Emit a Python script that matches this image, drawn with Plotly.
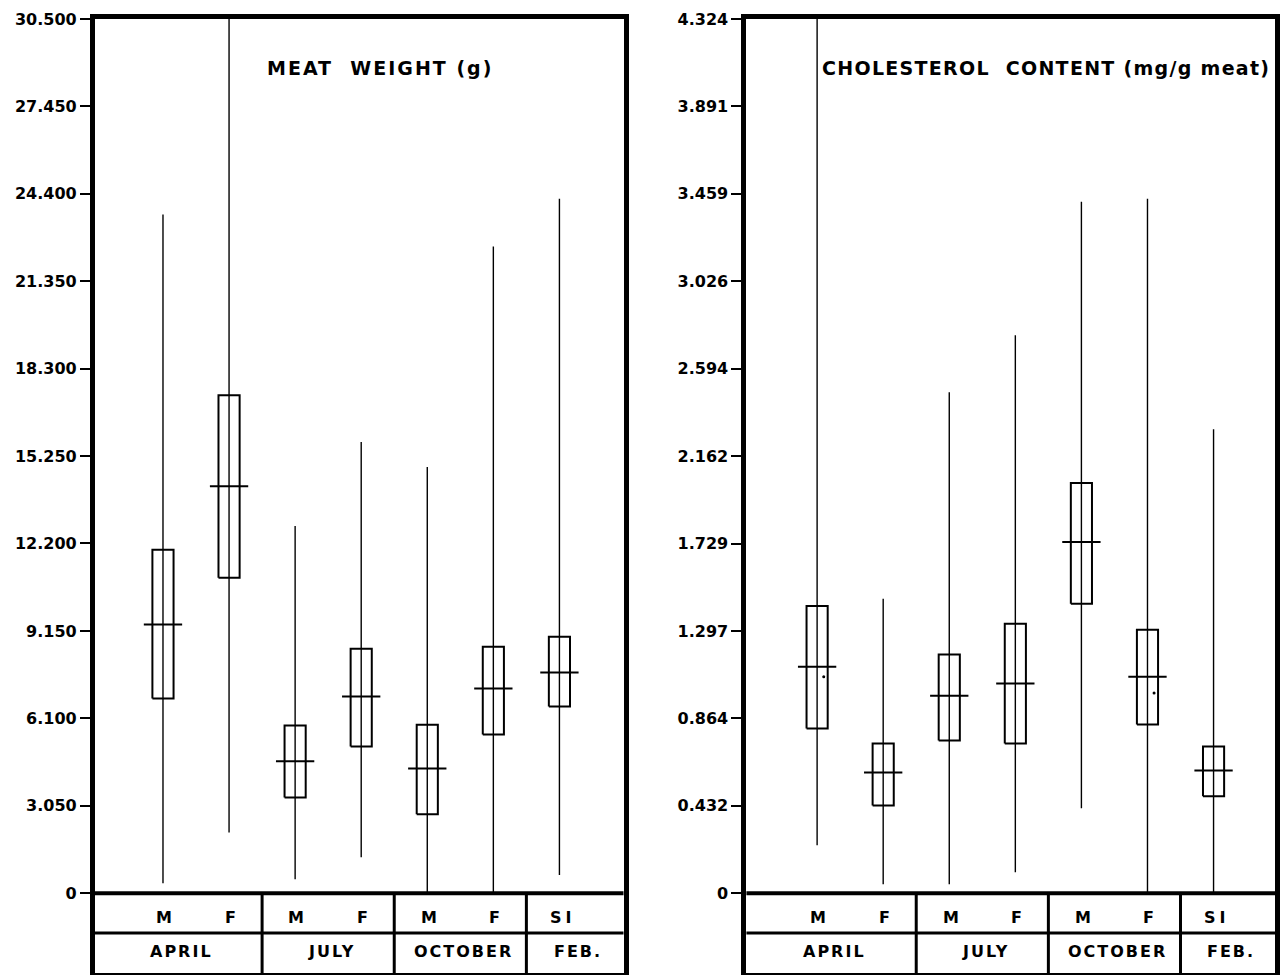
import plotly.graph_objects as go

# ---------------- data ----------------
categories = ["M", "F", "M", "F", "M", "F", "SI"]
months = ["APRIL", "JULY", "OCTOBER", "FEB."]
month_sizes = [2, 2, 2, 1]

# Meat weight (g)
mw_min = [0.35, 2.12, 0.49, 1.25, 0.0, 0.0, 0.63]
mw_max = [23.68, 30.5, 12.81, 15.74, 14.87, 22.56, 24.23]
mw_q_lo = [6.79, 11.0, 3.34, 5.12, 2.75, 5.54, 6.51]
mw_q_hi = [11.98, 17.37, 5.85, 8.53, 5.88, 8.60, 8.95]
mw_mean = [9.37, 14.20, 4.60, 6.86, 4.35, 7.14, 7.70]
mw_ticks = [0, 3.05, 6.1, 9.15, 12.2, 15.25, 18.3, 21.35, 24.4, 27.45, 30.5]
mw_ticklabels = ["0", "3.050", "6.100", "9.150", "12.200", "15.250", "18.300",
                 "21.350", "24.400", "27.450", "30.500"]

# Cholesterol content (mg/g meat)
ch_min = [0.237, 0.044, 0.044, 0.104, 0.420, 0.0, 0.0]
ch_max = [4.324, 1.456, 2.478, 2.759, 3.420, 3.435, 2.295]
ch_q_lo = [0.814, 0.434, 0.755, 0.740, 1.431, 0.834, 0.479]
ch_q_hi = [1.420, 0.740, 1.180, 1.333, 2.029, 1.303, 0.726]
ch_mean = [1.120, 0.597, 0.977, 1.037, 1.737, 1.071, 0.607]
ch_dot_idx = [0, 5]
ch_dot_val = [1.07, 0.99]
ch_ticks = [0, 0.432, 0.864, 1.297, 1.729, 2.162, 2.594, 3.026, 3.459, 3.891, 4.324]
ch_ticklabels = ["0", "0.432", "0.864", "1.297", "1.729", "2.162", "2.594",
                 "3.026", "3.459", "3.891", "4.324"]

# ---------------- style ----------------
FONT = "DejaVu Sans"
BOX_HW = 0.16
BAR_HW = 0.29
XR = [-0.03, 7.97]
XR2 = [-0.07, 7.93]
TABLE_FRAC = 80 / 876   # depth of the label table below zero, relative to y max
ROW_FRAC = 40 / 876
MF_FRAC = 24 / 876
MON_FRAC = 58 / 876
TITLE_FRAC = 1 - 49 / 876


def spaced(t, px):
    return '<span style="letter-spacing:%spx">%s</span>' % (px, t)


fig = go.Figure()
xs = list(range(1, len(categories) + 1))


def add_panel(xa, ya, xr, vmin, vmax, qlo, qhi, mean, ymax):
    wx, wy = [], []
    for x, a, b in zip(xs, vmin, vmax):
        wx += [x, x, None]
        wy += [a, b, None]
    fig.add_trace(go.Scatter(x=wx, y=wy, mode="lines", xaxis=xa, yaxis=ya,
                             line=dict(color="black", width=1.4), hoverinfo="skip"))
    bx, by = [], []
    for x, a, b in zip(xs, qlo, qhi):
        bx += [x - BOX_HW, x + BOX_HW, x + BOX_HW, x - BOX_HW, x - BOX_HW, None]
        by += [a, a, b, b, a, None]
    fig.add_trace(go.Scatter(x=bx, y=by, mode="lines", xaxis=xa, yaxis=ya,
                             line=dict(color="black", width=2), hoverinfo="skip"))
    mx, my = [], []
    for x, m in zip(xs, mean):
        mx += [x - BAR_HW, x + BAR_HW, None]
        my += [m, m, None]
    fig.add_trace(go.Scatter(x=mx, y=my, mode="lines", xaxis=xa, yaxis=ya,
                             line=dict(color="black", width=2), hoverinfo="skip"))

    xref = "x" if xa == "x" else "x2"
    yref = "y" if ya == "y" else "y2"
    ymin = -TABLE_FRAC * ymax
    fig.add_shape(type="line", xref=xref + " domain", yref=yref, x0=0, x1=1, y0=0, y1=0,
                  line=dict(color="black", width=4))
    fig.add_shape(type="line", xref=xref + " domain", yref=yref, x0=0, x1=1,
                  y0=-ROW_FRAC * ymax, y1=-ROW_FRAC * ymax,
                  line=dict(color="black", width=3))
    pos = 0.5
    centers = []
    for i, n in enumerate(month_sizes):
        start = pos
        pos += n
        end = pos if i < len(month_sizes) - 1 else xr[1]
        if i == 0:
            start = xr[0]
        centers.append((start + end) / 2 + 0.05)
        if i < len(month_sizes) - 1:
            fig.add_shape(type="line", xref=xref, yref=yref, x0=pos, x1=pos,
                          y0=ymin, y1=0, line=dict(color="black", width=3))
    for x, c in zip(xs, categories):
        fig.add_annotation(x=x + 0.05, y=-MF_FRAC * ymax, xref=xref, yref=yref,
                           text=spaced(c, 4), showarrow=False,
                           font=dict(family=FONT, size=16, color="black", weight="bold"))
    for cx, m in zip(centers, months):
        fig.add_annotation(x=cx, y=-MON_FRAC * ymax, xref=xref, yref=yref,
                           text=spaced(m, 2), showarrow=False,
                           font=dict(family=FONT, size=16, color="black", weight="bold"))
    return ymin


ymin1 = add_panel("x", "y", XR, mw_min, mw_max, mw_q_lo, mw_q_hi, mw_mean, 30.5)
ymin2 = add_panel("x2", "y2", XR2, ch_min, ch_max, ch_q_lo, ch_q_hi, ch_mean, 4.324)

fig.add_trace(go.Scatter(x=[xs[i] + 0.1 for i in ch_dot_idx], y=ch_dot_val, mode="markers",
                         xaxis="x2", yaxis="y2", marker=dict(color="black", size=3),
                         hoverinfo="skip"))

fig.add_annotation(x=2.55, y=TITLE_FRAC * 30.5, xref="x", yref="y", xanchor="left",
                   text=spaced("MEAT  WEIGHT (g)", 2), showarrow=False,
                   font=dict(family=FONT, size=19, color="black", weight="bold"))
fig.add_annotation(x=0.995, y=TITLE_FRAC * 4.324, xref="x2 domain", yref="y2",
                   xanchor="right",
                   text=spaced("CHOLESTEROL  CONTENT (mg/g meat)", 1.3), showarrow=False,
                   font=dict(family=FONT, size=19, color="black", weight="bold"))

axis_common = dict(showgrid=False, zeroline=False, showline=True, linecolor="black",
                   linewidth=5, mirror=True)
tickfont = dict(family=FONT, size=16, color="black", weight="bold")
fig.update_layout(
    width=1280, height=975, margin=dict(l=0, r=0, t=0, b=0),
    paper_bgcolor="white", plot_bgcolor="white", showlegend=False,
    xaxis=dict(domain=[95 / 1280, 624 / 1280], range=XR, showticklabels=False,
               ticks="", **axis_common),
    yaxis=dict(domain=[2 / 975, 965 / 975], range=[ymin1, 30.5], tickvals=mw_ticks,
               ticktext=mw_ticklabels, ticks="outside", ticklen=10, tickwidth=2,
               tickcolor="black", tickfont=tickfont, **axis_common),
    xaxis2=dict(domain=[747 / 1280, 1276 / 1280], range=XR2, showticklabels=False,
                ticks="", anchor="y2", **axis_common),
    yaxis2=dict(domain=[2 / 975, 965 / 975], range=[ymin2, 4.324], tickvals=ch_ticks,
                ticktext=ch_ticklabels, ticks="outside", ticklen=10, tickwidth=2,
                tickcolor="black", anchor="x2", tickfont=tickfont, **axis_common),
)

fig.write_html("out.html", config={"displayModeBar": False},
               post_script="document.body.style.margin='0px';"
                           "document.body.style.overflow='hidden';")
